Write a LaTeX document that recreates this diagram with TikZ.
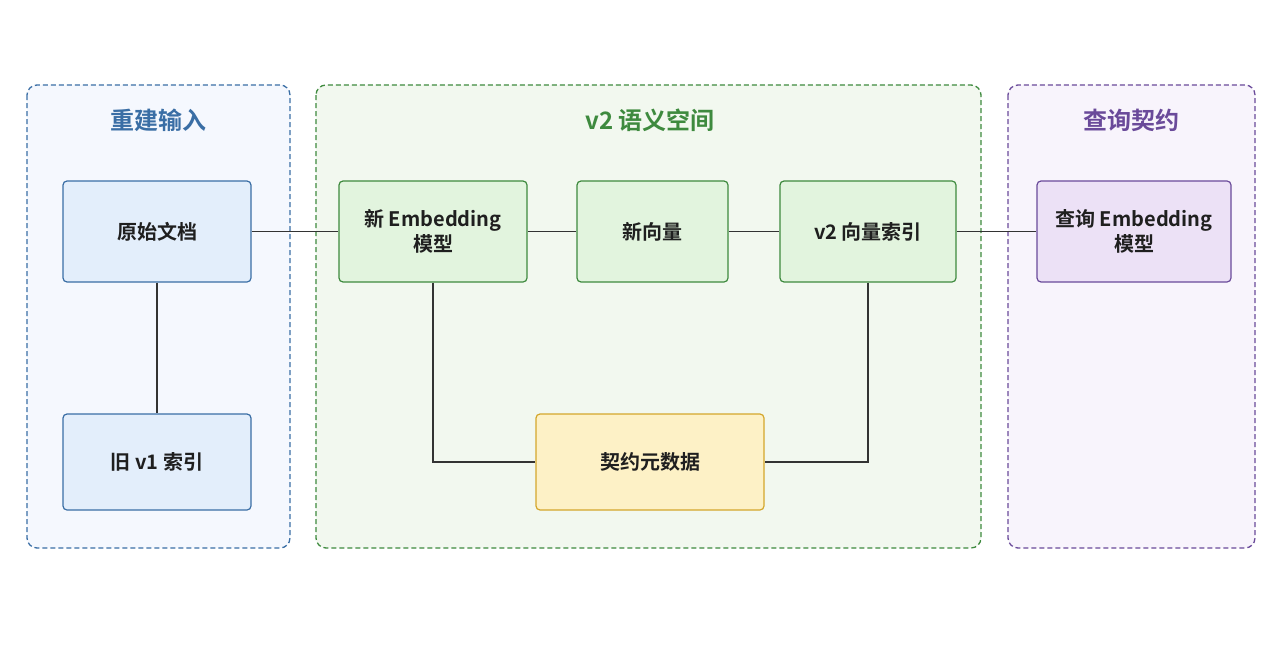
\documentclass[tikz,border=0pt]{standalone}
\usepackage{fontspec}
\setmainfont{Noto Sans CJK SC}[BoldFont={* Bold}]
\definecolor{bD}{HTML}{3A6EA5}\definecolor{bF}{HTML}{E3EEFB}\definecolor{bG}{HTML}{F5F8FE}
\definecolor{gD}{HTML}{3E8A3E}\definecolor{gF}{HTML}{E2F4DE}\definecolor{gG}{HTML}{F2F8EF}
\definecolor{pD}{HTML}{6A4A9A}\definecolor{pF}{HTML}{ECE1F6}\definecolor{pG}{HTML}{F8F4FC}
\definecolor{yD}{HTML}{D4A72C}\definecolor{yF}{HTML}{FDF1C6}
\begin{document}
\begin{tikzpicture}[x=1pt,y=-1pt,
 grp/.style={draw,line width=1.3pt,rounded corners=10pt,dash pattern=on 5pt off 3pt},
 box/.style={draw,line width=1.2pt,rounded corners=4pt,align=center,font=\fontsize{20}{25}\selectfont\bfseries,text=black!88},
 ttl/.style={font=\fontsize{24}{29}\selectfont\bfseries},
 ln/.style={draw=black!80,line width=1.6pt}]
\fill[white] (0,0) rectangle (1280,661);
\draw[grp,draw=bD,fill=bG] (27,85) rectangle (290,548);
\draw[grp,draw=gD,fill=gG] (316,85) rectangle (981,548);
\draw[grp,draw=pD,fill=pG] (1008,85) rectangle (1255,548);
\node[ttl,text=bD] (t1) at (158,120) {重建输入};
\node[ttl,text=gD] (t2) at (650,120) {v2 语义空间};
\node[ttl,text=pD] (t3) at (1131,120) {查询契约};
\tikzset{bl/.style={box,draw=bD,fill=bF},
 gr/.style={box,draw=gD,fill=gF},
 pu/.style={box,draw=pD,fill=pF},
 ye/.style={box,draw=yD,fill=yF}}
\node[bl,minimum width=188,minimum height=101] (a) at (157,231.5) {原始文档};
\node[bl,minimum width=188,minimum height=96] (b) at (157,462) {旧 v1 索引};
\node[gr,minimum width=188,minimum height=101] (c) at (433,231.5) {新 Embedding\\模型};
\node[gr,minimum width=151,minimum height=101] (d) at (652.5,231.5) {新向量};
\node[gr,minimum width=176,minimum height=101] (e) at (868,231.5) {v2 向量索引};
\node[pu,minimum width=194,minimum height=101] (f) at (1134,231.5) {查询 Embedding\\模型};
\node[ye,minimum width=228,minimum height=96] (g) at (650,462) {契约元数据};
\draw[ln] (a) -- (c);
\draw[ln] (c) -- (d);
\draw[ln] (d) -- (e);
\draw[ln] (e) -- (f);
\draw[ln] (a) -- (b);
\draw[ln] (c.south) |- (g.west);
\draw[ln] (e.south) |- (g.east);
\end{tikzpicture}
\end{document}
